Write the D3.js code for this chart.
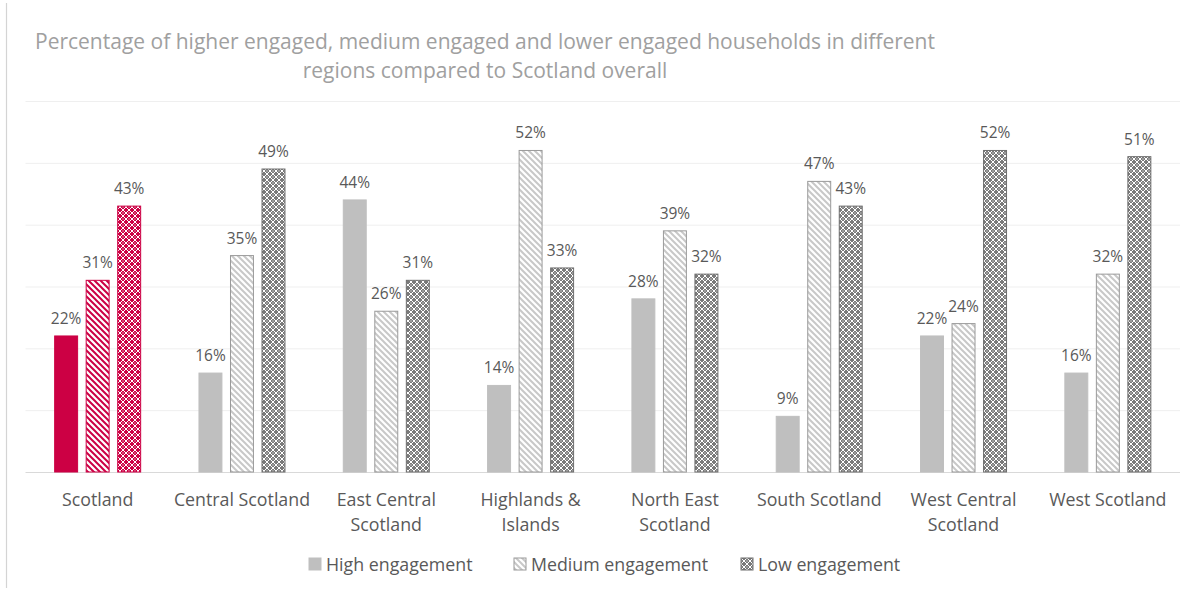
<!DOCTYPE html>
<html>
<head>
<meta charset="utf-8">
<script src="https://cdn.jsdelivr.net/npm/d3@7/dist/d3.min.js"></script>
<style>
  html, body { margin: 0; padding: 0; background: #fff; }
  svg text { font-family: "Open Sans", "Noto Sans", sans-serif; }
</style>
</head>
<body>
<svg id="chart" width="1195" height="590"></svg>
<script>
// Regions (first one is the national total, highlighted)
const regions = [
  ["Scotland"],
  ["Central Scotland"],
  ["East Central", "Scotland"],
  ["Highlands &", "Islands"],
  ["North East", "Scotland"],
  ["South Scotland"],
  ["West Central", "Scotland"],
  ["West Scotland"]
];
const seriesNames = ["High engagement", "Medium engagement", "Low engagement"];
const highValues   = [22, 16, 44, 14, 28, 9, 22, 16];
const mediumValues = [31, 35, 26, 52, 39, 47, 24, 32];
const lowValues    = [43, 49, 31, 33, 32, 43, 52, 51];
const yTicks = [0, 10, 20, 30, 40, 50, 60];
const titleLines = [
  "Percentage of higher engaged, medium engaged and lower engaged households in different",
  "regions compared to Scotland overall"
];

const W = 1195, H = 590;
const svg = d3.select("#chart");
const defs = svg.append("defs");

const CRIMSON = "#CC0044";
const GREY = "#BFBFBF";

// Fill patterns: diagonal stripes (medium) and lattice (low)
function stripePattern(id, stripe, bg) {
  const p = defs.append("pattern").attr("id", id)
    .attr("patternUnits", "userSpaceOnUse").attr("width", 6).attr("height", 6);
  p.append("rect").attr("width", 6).attr("height", 6).attr("fill", bg);
  p.append("path").attr("d", "M0,0 L6,6 M-3,3 L3,9 M3,-3 L9,3")
    .attr("stroke", stripe).attr("stroke-width", 2);
}
function latticePattern(id, bg) {
  const p = defs.append("pattern").attr("id", id)
    .attr("patternUnits", "userSpaceOnUse").attr("width", 6).attr("height", 6);
  p.append("rect").attr("width", 6).attr("height", 6).attr("fill", bg);
  p.append("path").attr("d", "M0,3 L3,0 L6,3 L3,6 Z")
    .attr("fill", "none").attr("stroke", "#fff").attr("stroke-width", 1);
  p.append("rect").attr("x", 2.5).attr("y", 2.5).attr("width", 1).attr("height", 1).attr("fill", "#fff");
}
stripePattern("stripe-red", CRIMSON, "#fff");
stripePattern("stripe-grey", "#C8C8C8", "#fff");
latticePattern("lattice-red", CRIMSON);
latticePattern("lattice-grey", "#7A7A7A");

const margin = { left: 25.5, right: 15, top: 101, bottom: 118 };
const plotBottom = H - margin.bottom;

const x = d3.scaleBand().domain(d3.range(regions.length))
  .range([margin.left, W - margin.right]).paddingInner(0).paddingOuter(0);
const xs = d3.scaleBand().domain(d3.range(3))
  .range([-43.5, 43.5]).paddingInner(0.24).paddingOuter(0);
const y = d3.scaleLinear().domain([0, 60]).range([plotBottom, margin.top]);

// Outer frame edge on the left
svg.append("line").attr("x1", 6.5).attr("x2", 6.5).attr("y1", 3).attr("y2", H - 2)
  .attr("stroke", "#D4D4D4").attr("stroke-width", 1.2);

// Title
svg.append("g").selectAll("text").data(titleLines).join("text")
  .attr("x", 485).attr("y", (d, i) => 49 + i * 29)
  .attr("text-anchor", "middle").attr("font-size", 21).attr("fill", "#A0A0A0")
  .text(d => d);

// Horizontal gridlines via axis
const yAxis = d3.axisLeft(y).tickValues(yTicks)
  .tickSize(-(x.range()[1] - x.range()[0])).tickFormat("");
const gy = svg.append("g").attr("transform", `translate(${margin.left},0)`).call(yAxis);
gy.select(".domain").remove();
gy.selectAll(".tick line").attr("stroke", d => d === 0 ? "#D9D9D9" : "#EFEFEF").attr("stroke-width", 1);

// Bars
const series = [highValues, mediumValues, lowValues];
function fillFor(s, r) {
  const red = r === 0;
  if (s === 0) return red ? CRIMSON : GREY;
  if (s === 1) return red ? "url(#stripe-red)" : "url(#stripe-grey)";
  return red ? "url(#lattice-red)" : "url(#lattice-grey)";
}
function strokeFor(s, r) {
  if (r === 0) return CRIMSON;
  if (s === 0) return GREY;
  if (s === 1) return "#9A9A9A";
  return "#6E6E6E";
}
const barData = [];
series.forEach((vals, s) => vals.forEach((v, r) => barData.push({ s, r, v })));

const gBars = svg.append("g");
gBars.selectAll("rect").data(barData).join("rect")
  .attr("x", d => x(d.r) + x.bandwidth() / 2 + xs(d.s) + 0.5)
  .attr("width", xs.bandwidth() - 1)
  .attr("y", d => y(d.v))
  .attr("height", d => y(0) - y(d.v))
  .attr("fill", d => fillFor(d.s, d.r))
  .attr("stroke", d => strokeFor(d.s, d.r))
  .attr("stroke-width", 1);

// Value labels
svg.append("g").selectAll("text").data(barData).join("text")
  .attr("x", d => x(d.r) + x.bandwidth() / 2 + xs(d.s) + xs.bandwidth() / 2)
  .attr("y", d => y(d.v) - 12)
  .attr("text-anchor", "middle").attr("font-size", 15.5).attr("fill", "#595959")
  .text(d => d.v + "%");

// Category labels
const gx = svg.append("g");
regions.forEach((lines, r) => {
  const t = gx.append("text").attr("x", x(r) + x.bandwidth() / 2).attr("y", plotBottom + 34)
    .attr("text-anchor", "middle").attr("font-size", 17.8).attr("fill", "#595959");
  lines.forEach((ln, i) => t.append("tspan").attr("x", x(r) + x.bandwidth() / 2)
    .attr("dy", i === 0 ? 0 : 25).text(ln));
});

// Legend
const legendX = [309, 514, 741];
const legendFills = [GREY, "url(#stripe-grey)", "url(#lattice-grey)"];
const legendStrokes = [GREY, "#9A9A9A", "#6E6E6E"];
const gl = svg.append("g");
seriesNames.forEach((name, i) => {
  gl.append("rect").attr("x", legendX[i]).attr("y", 558).attr("width", 12).attr("height", 12)
    .attr("fill", legendFills[i]).attr("stroke", legendStrokes[i]);
  gl.append("text").attr("x", legendX[i] + 17).attr("y", 571)
    .attr("font-size", 17.8).attr("fill", "#595959").text(name);
});
</script>
</body>
</html>
